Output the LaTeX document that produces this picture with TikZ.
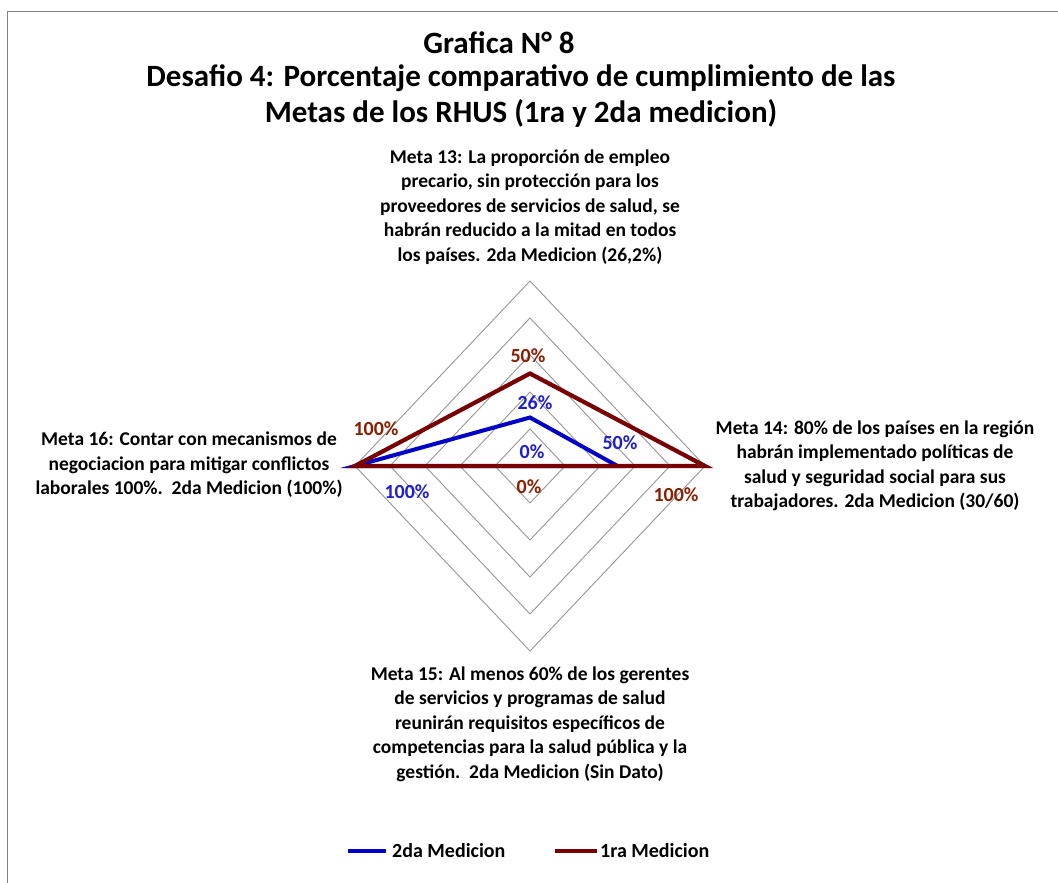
\documentclass[tikz,border=0pt]{standalone}
\usepackage{fontspec}
\setmainfont{Carlito}
\definecolor{maroonline}{RGB}{120,0,0}
\definecolor{bluline}{RGB}{0,0,200}
\definecolor{redlbl}{RGB}{140,30,0}
\definecolor{blulbl}{RGB}{30,30,210}
\definecolor{gridgray}{RGB}{150,150,150}
\definecolor{framegray}{RGB}{128,128,128}
\begin{document}
\begin{tikzpicture}[x=1pt,y=-1pt,
  title/.style={font=\fontsize{31}{36}\selectfont\bfseries, inner sep=0},
  meta/.style={font=\fontsize{19.5}{24.5}\selectfont\bfseries, align=center, inner sep=0},
  vlab/.style={font=\fontsize{20}{24}\selectfont\bfseries, inner sep=0},
  gridline/.style={gridgray, line width=0.9},
  serie2/.style={bluline, line width=4},
  serie1/.style={maroonline, line width=4.2},
  legtext/.style={font=\fontsize{20}{24}\selectfont\bfseries, inner sep=0, anchor=west}]
\useasboundingbox (0,0) rectangle (1058,883);
\fill[white] (0,0) rectangle (1058,883);
\draw[framegray, line width=1.5] (7.5,883) -- (7.5,11.5) -- (1058,11.5);

% title
\node[title] (t1) at (499,43) {Grafica N° 8};
\node[title] (t2) at (521,78) {Desafio 4: Porcentaje comparativo de cumplimiento de las};
\node[title] (t3) at (521,113) {Metas de los RHUS (1ra y 2da medicion)};

% grid
\foreach \k in {1,...,5}
  \draw[gridline] (530,{466-37*\k}) -- ({530+35*\k},466) -- (530,{466+37*\k}) -- ({530-35*\k},466) -- cycle;

% data points
\coordinate (C) at (530,466);
\coordinate (R16) at (355,466);
\coordinate (R13) at (530,373.5);
\coordinate (R14) at (705,466);
\coordinate (B13) at (530,417.5);
\coordinate (B14) at (617.5,466);

\draw[serie2] (R16) -- (B13) -- (B14) -- (C) -- cycle;
\draw[serie1] (R16) -- (R13) -- (R14) -- (C) -- cycle;

% data labels
\node[vlab, redlbl] (l1) at (528,356) {50\%};
\node[vlab, blulbl] (l2) at (535,403) {26\%};
\node[vlab, blulbl] (l3) at (532,452) {0\%};
\node[vlab, redlbl] (l4) at (529,487) {0\%};
\node[vlab, redlbl] (l5) at (376,429) {100\%};
\node[vlab, blulbl] (l6) at (407,492) {100\%};
\node[vlab, blulbl] (l7) at (620,443) {50\%};
\node[vlab, redlbl] (l8) at (676,495) {100\%};

% axis labels
\node[meta] (m13) at (530,207) {Meta 13: La proporción de empleo\\precario, sin protección para los\\proveedores de servicios de salud, se\\habrán reducido a la mitad en todos\\los países. 2da Medicion (26,2\%)};
\node[meta] (m14) at (875,466) {Meta 14: 80\% de los países en la región\\habrán implementado políticas de\\salud y seguridad social para sus\\trabajadores. 2da Medicion (30/60)};
\node[meta] (m15) at (530,724) {Meta 15: Al menos 60\% de los gerentes\\de servicios y programas de salud\\reunirán requisitos específicos de\\competencias para la salud pública y la\\gestión.~~2da Medicion (Sin Dato)};
\node[meta] (m16) at (189,465) {Meta 16: Contar con mecanismos de\\negociacion para mitigar conflictos\\laborales 100\%.~~2da Medicion (100\%)};

% legend
\coordinate (lg2a) at (348,851);
\coordinate (lg2b) at (386,851);
\draw[serie2] (lg2a) -- (lg2b);
\node[legtext] (lt2) at (392,851) {2da Medicion};
\coordinate (lg1a) at (555,851);
\coordinate (lg1b) at (597,851);
\draw[serie1] (lg1a) -- (lg1b);
\node[legtext] (lt1) at (600,851) {1ra Medicion};
\end{tikzpicture}
\end{document}
